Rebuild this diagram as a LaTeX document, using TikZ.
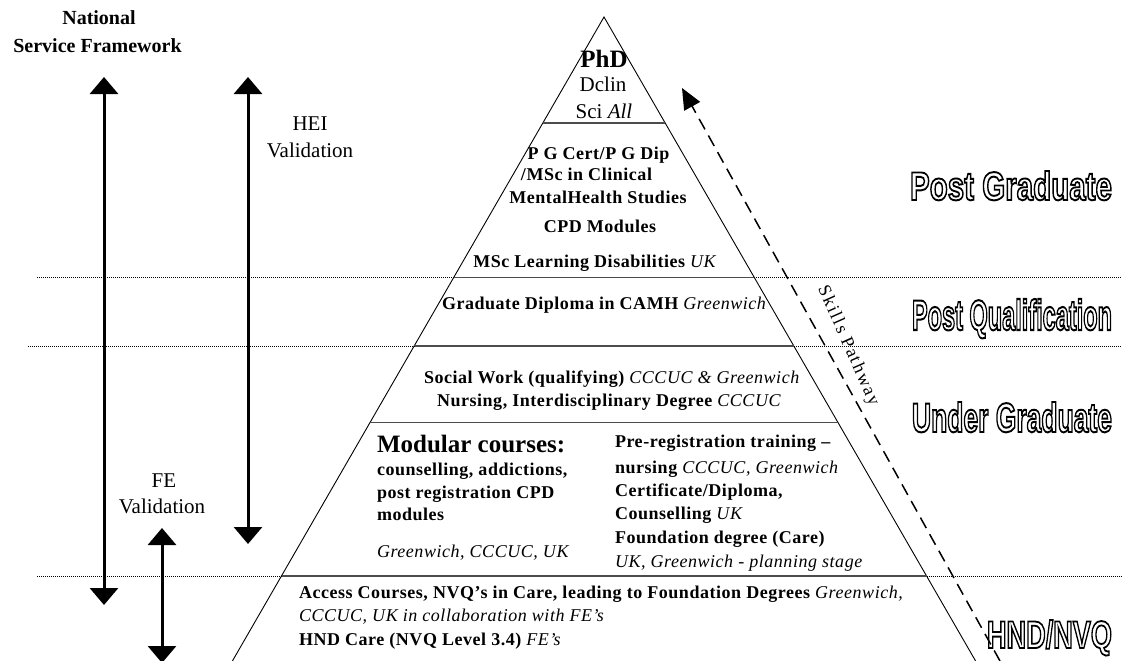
\documentclass[tikz,border=0pt]{standalone}
\usepackage{fontspec}
\setmainfont{Liberation Serif}
\newfontfamily\outfont{Liberation Sans}
\newfontfamily\skillfont[LetterSpace=10]{Liberation Serif}
\usetikzlibrary{arrows.meta}
\newcommand{\outl}[3]{\resizebox{#1}{#2}{\outfont\bfseries\fontsize{40}{44}\selectfont\special{pdf:literal direct q 1 Tr 1.9 w}#3\special{pdf:literal direct Q}}}
\newcommand{\iu}[1]{{\mdseries\itshape #1}}
\begin{document}
\begin{tikzpicture}[x=1pt,y=-1pt,
  lbl/.style={inner sep=0pt,outer sep=0pt},
  tb/.style={lbl,font=\fontsize{18}{20}\selectfont\bfseries\addfontfeature{LetterSpace=3}},
  tbig/.style={lbl,font=\fontsize{25}{28}\selectfont\bfseries},
  tside/.style={lbl,font=\fontsize{20}{24}\selectfont\bfseries},
  tval/.style={lbl,font=\fontsize{21}{24}\selectfont},
  tit/.style={lbl,font=\fontsize{18}{20}\selectfont\itshape\addfontfeature{LetterSpace=3}},
  edge/.style={line width=0.9pt},
  divider/.style={line width=1.5pt,black!70},
  dots/.style={line width=0.8pt,dash pattern=on 1pt off 1pt},
  bigarrow/.style={line width=3pt,{Triangle[width=28pt,length=17pt]}-{Triangle[width=28pt,length=17pt]}},
  skills/.style={line width=1.5pt,dash pattern=on 12pt off 7pt,-{Triangle[width=18pt,length=21pt]}},
  outlbl/.style={lbl,anchor=base west}]
\useasboundingbox (0,0) rectangle (1122,661);
\fill[white] (0,0) rectangle (1122,661);

% pyramid
\coordinate (apex) at (604,17);
\coordinate (bl) at (232.4,661);
\coordinate (br) at (975.6,661);
\draw[edge] (bl) -- (apex) -- (br);

\coordinate (d1l) at (542.8,123);  \coordinate (d1r) at (665.2,123);
\coordinate (d2l) at (453.6,277.7); \coordinate (d2r) at (754.4,277.7);
\coordinate (d3l) at (414.2,346);  \coordinate (d3r) at (793.8,346);
\coordinate (d4l) at (370,422.5);  \coordinate (d4r) at (838,422.5);
\coordinate (d5l) at (281.5,576);  \coordinate (d5r) at (926.5,576);
\coordinate (o2l) at (37,277.7);  \coordinate (o2r) at (1122,277.7);
\coordinate (o3l) at (28,346);    \coordinate (o3r) at (1122,346);
\coordinate (o5l) at (37,576);    \coordinate (o5r) at (1122,576);

\draw[divider] (d1l) -- (d1r);
\draw[divider] (d2l) -- (d2r);
\draw[divider] (d3l) -- (d3r);
\draw[divider] (d4l) -- (d4r);
\draw[divider] (d5l) -- (d5r);
\draw[dots] (o2l) -- (d2l);
\draw[dots] (d2r) -- (o2r);
\draw[dots] (o3l) -- (d3l);
\draw[dots] (d3r) -- (o3r);
\draw[dots] (o5l) -- (d5l);
\draw[dots] (d5r) -- (o5r);

% vertical arrows
\coordinate (nsfT) at (104,77);  \coordinate (nsfB) at (104,605);
\coordinate (heiT) at (248,77);  \coordinate (heiB) at (248,544);
\coordinate (feT) at (162,528);  \coordinate (feB) at (162,663);
\draw[bigarrow] (nsfT) -- (nsfB);
\draw[bigarrow] (heiT) -- (heiB);
\draw[bigarrow] (feT) -- (feB);

% skills pathway
\coordinate (skB) at (1000,661);
\coordinate (skT) at (682,88);
\draw[skills] (skB) -- (skT);
\node[lbl,rotate=-66,font=\fontsize{18}{20}\selectfont\skillfont] (skl) at (848,346) {Skills Pathway};

% side labels
\node[tside,anchor=base] (nat) at (99,25) {National};
\node[tside,anchor=base] (nsf) at (97.5,53) {Service Framework};
\node[tval,anchor=base] (hei1) at (310,130) {HEI};
\node[tval,anchor=base] (hei2) at (310,157) {Validation};
\node[tval,anchor=base] (fe1) at (164,487) {FE};
\node[tval,anchor=base] (fe2) at (162,513) {Validation};

% top
\node[tbig,anchor=base] (phd) at (604,68) {PhD};
\node[tval,anchor=base] (dclin) at (603,92) {Dclin};
\node[tval,anchor=base] (sci) at (604,118) {Sci \textit{All}};

% PG
\node[tb,anchor=base] (pg1) at (598.5,159) {P G Cert/P G Dip};
\node[tb,anchor=base] (pg2) at (586.5,180) {/MSc in Clinical};
\node[tb,anchor=base] (pg3) at (598,203) {MentalHealth Studies};
\node[tb,anchor=base] (pg4) at (600,232) {CPD Modules};
\node[tb,anchor=base] (pg5) at (594.5,267) {MSc Learning Disabilities \iu{UK}};

% PQ
\node[tb,anchor=base west] (pq) at (442,309) {Graduate Diploma in CAMH \iu{Greenwich}};

% UG
\node[tb,anchor=base west] (ug1) at (424,383) {Social Work (qualifying) \iu{CCCUC \& Greenwich}};
\node[tb,anchor=base west] (ug2) at (437,406) {Nursing, Interdisciplinary Degree \iu{CCCUC}};

% modular
\node[tbig,anchor=base west] (m1) at (377,452) {Modular courses:};
\node[tb,anchor=base west] (m2) at (377,475) {counselling, addictions,};
\node[tb,anchor=base west] (m3) at (377,498) {post registration CPD};
\node[tb,anchor=base west] (m4) at (377,520) {modules};
\node[tit,anchor=base west] (m5) at (377,557) {Greenwich, CCCUC, UK};

\node[tb,anchor=base west] (r1) at (615,447) {Pre-registration training --};
\node[tb,anchor=base west] (r2) at (615,473) {nursing \iu{CCCUC, Greenwich}};
\node[tb,anchor=base west] (r3) at (615,496) {Certificate/Diploma,};
\node[tb,anchor=base west] (r4) at (615,519) {Counselling \iu{UK}};
\node[tb,anchor=base west] (r5) at (615,543) {Foundation degree (Care)};
\node[tit,anchor=base west] (r6) at (615,567) {UK, Greenwich - planning stage};

% HND
\node[tb,anchor=base west] (h1) at (299,598) {Access Courses, NVQ's in Care, leading to Foundation Degrees \iu{Greenwich,}};
\node[tit,anchor=base west] (h2) at (299,621) {CCCUC, UK in collaboration with FE's};
\node[tb,anchor=base west] (h3) at (299,645) {HND Care (NVQ Level 3.4) \iu{FE's}};

% outlined level labels
\node[outlbl] (lpg) at (910,200) {\outl{202pt}{29pt}{Post Graduate}};
\node[outlbl] (lpq) at (912,330) {\outl{200pt}{31pt}{Post Qualification}};
\node[outlbl] (lug) at (912,432) {\outl{200pt}{30pt}{Under Graduate}};
\node[outlbl] (lhnd) at (987,648) {\outl{125pt}{28pt}{HND/NVQ}};
\end{tikzpicture}
\end{document}
